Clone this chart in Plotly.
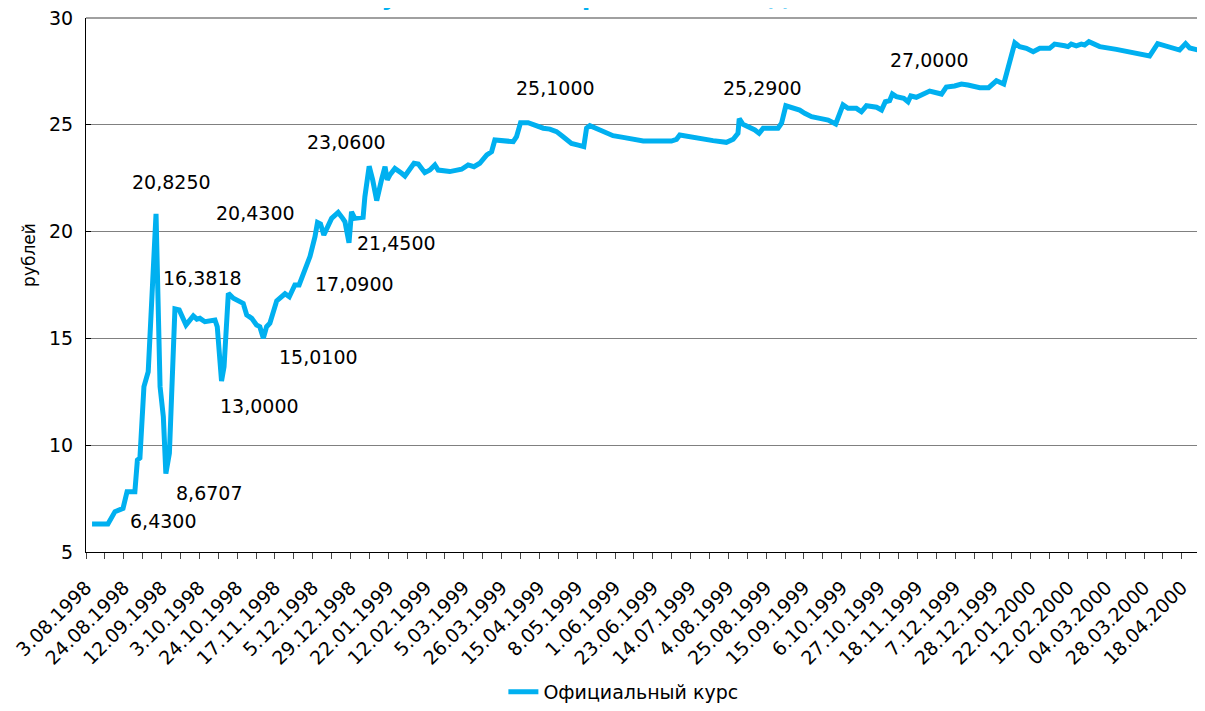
import plotly.graph_objects as go

# official rate, rub per USD; x = trading day counted from 3.08.1998
day_index = [2.4, 8.7, 11.5, 14.7, 16.3, 19.4, 20.4, 21.4, 23.0, 24.7,
             27.8, 29.4, 30.7, 31.7, 33.1, 35.3, 37.0, 39.7, 42.6, 44.0,
             45.2, 47.2, 51.2, 52.1, 53.8, 54.8, 56.5, 58.5, 62.4, 63.8,
             65.8, 67.7, 69.0, 70.4, 71.7, 73.0, 75.7, 77.7, 79.0, 80.7,
             82.9, 84.6, 86.0, 88.9, 90.9, 91.9, 93.1, 94.4, 97.5, 100.1,
             101.9, 102.8, 104.4, 105.4, 106.7, 110.0, 110.7, 112.4, 113.8, 115.4,
             117.3, 118.7, 119.6, 120.6, 122.6, 123.9, 125.3, 126.6, 127.9, 130.2,
             131.9, 134.5, 136.5, 138.5, 139.8, 144.4, 149.1, 151.7, 154.0, 156.3,
             159.1, 161.0, 162.3, 169.6, 170.9, 172.5, 175.5, 177.5, 181.5, 184.1,
             186.8, 189.4, 192.7, 195.4, 197.6, 198.7, 200.0, 204.0, 209.2, 213.2,
             221.2, 232.4, 234.4, 235.7, 242.3, 248.9, 254.2, 256.9, 258.8, 259.3,
             260.8, 264.2, 265.5, 267.2, 268.8, 274.7, 276.1, 277.8, 282.0, 283.3,
             285.3, 288.0, 291.3, 294.6, 297.6, 299.2, 300.5, 302.5, 305.8, 307.8,
             309.8, 313.8, 315.8, 317.3, 319.0, 320.1, 321.7, 324.6, 326.3, 327.4,
             329.6, 331.6, 334.9, 339.6, 341.5, 344.8, 347.5, 350.1, 354.8, 358.3,
             361.4, 364.3, 368.7, 370.6, 373.3, 376.0, 378.6, 382.5, 384.5, 388.5,
             389.8, 391.1, 393.1, 395.1, 396.4, 398.1, 402.4, 409.0, 415.6, 422.2,
             425.4, 434.1, 436.5, 438.1, 442.5]
rate = [6.31, 6.31, 6.89, 7.04, 7.82, 7.82, 9.31, 9.40, 12.74, 13.44,
        20.83, 12.74, 11.33, 8.67, 9.62, 16.38, 16.33, 15.63, 16.05, 15.90,
        15.94, 15.78, 15.86, 15.55, 13.00, 13.67, 17.11, 16.88, 16.64, 16.10,
        15.94, 15.63, 15.55, 15.01, 15.55, 15.71, 16.76, 16.95, 17.09, 16.95,
        17.50, 17.50, 17.89, 18.83, 19.76, 20.43, 20.36, 19.84, 20.62, 20.90,
        20.62, 20.46, 19.48, 20.93, 20.62, 20.67, 21.63, 23.06, 22.42, 21.45,
        22.42, 23.04, 22.42, 22.65, 22.96, 22.81, 22.73, 22.60, 22.85, 23.20,
        23.16, 22.76, 22.88, 23.12, 22.88, 22.81, 22.92, 23.12, 23.04, 23.20,
        23.59, 23.74, 24.29, 24.21, 24.44, 25.10, 25.10, 25.02, 24.84, 24.80,
        24.68, 24.44, 24.13, 24.05, 23.98, 24.84, 24.96, 24.76, 24.49, 24.41,
        24.24, 24.24, 24.32, 24.52, 24.37, 24.26, 24.18, 24.32, 24.60, 25.29,
        25.02, 24.86, 24.76, 24.60, 24.84, 24.84, 25.07, 25.89, 25.77, 25.69,
        25.54, 25.38, 25.30, 25.22, 25.04, 25.54, 25.93, 25.77, 25.77, 25.61,
        25.89, 25.82, 25.69, 26.08, 26.13, 26.44, 26.32, 26.24, 26.08, 26.35,
        26.29, 26.40, 26.58, 26.44, 26.77, 26.82, 26.91, 26.86, 26.74, 26.74,
        27.06, 26.91, 28.84, 28.66, 28.58, 28.42, 28.58, 28.58, 28.78, 28.70,
        28.66, 28.78, 28.70, 28.78, 28.74, 28.89, 28.66, 28.53, 28.38, 28.22,
        28.80, 28.50, 28.80, 28.60, 28.47]

tick_labels = ["3.08.1998", "24.08.1998", "12.09.1998", "3.10.1998", "24.10.1998",
               "17.11.1998", "5.12.1998", "29.12.1998", "22.01.1999", "12.02.1999",
               "5.03.1999", "26.03.1999", "15.04.1999", "8.05.1999", "1.06.1999",
               "23.06.1999", "14.07.1999", "4.08.1999", "25.08.1999", "15.09.1999",
               "6.10.1999", "27.10.1999", "18.11.1999", "7.12.1999", "28.12.1999",
               "22.01.2000", "12.02.2000", "04.03.2000", "28.03.2000", "18.04.2000"]
label_step = 15  # trading days between labelled dates
y_ticks = [5, 10, 15, 20, 25, 30]

# value captions and where they sit (x = trading day, y = rubles)
note_text = ["20,8250", "20,4300", "16,3818", "17,0900", "21,4500", "23,0600", "15,0100",
             "13,0000", "8,6707", "6,4300", "25,1000", "25,2900", "27,0000"]
note_x = [34.1, 67.1, 46.4, 106.7, 123.4, 103.6, 92.1, 69.0, 48.8, 30.6, 186.5, 268.7, 334.9]
note_y = [22.32, 20.87, 17.83, 17.55, 19.47, 24.19, 14.13, 11.84, 7.76, 6.45, 26.72, 26.72, 28.03]

FONT = "DejaVu Sans"
CYAN = "#00B0F0"

fig = go.Figure()
fig.add_trace(go.Scatter(
    x=day_index, y=rate,
    mode="lines",
    line=dict(color=CYAN, width=5),
    name="Официальный курс",
    showlegend=True
))

# tick every half label step, text on every other one
tickvals = [i * label_step / 2 for i in range(2 * len(tick_labels))]
ticktext = [tick_labels[i // 2] if i % 2 == 0 else "" for i in range(len(tickvals))]

for t, x, y in zip(note_text, note_x, note_y):
    fig.add_annotation(x=x, y=y, text=t, showarrow=False,
                       font=dict(family=FONT, size=19, color="black"))

# top gridline sits on the plot edge and gets clipped, draw it in paper coords
fig.add_shape(type="line", xref="paper", yref="paper", x0=0, x1=1, y0=1, y1=1,
              line=dict(color="#808080", width=1.5), layer="below")

# axis caption sits above the middle of the axis
fig.add_annotation(xref="paper", yref="paper", x=-0.062, y=0.556, text="рублей",
                   textangle=-90, showarrow=False,
                   font=dict(family=FONT, size=17, color="black"))

# title sits above the picture, only its descenders show
fig.add_annotation(xref="paper", yref="paper", x=0.433, y=1.0094, yanchor="bottom",
                   text="<b>Август 1998 — апрель 2000 года</b>", showarrow=False,
                   font=dict(family=FONT, size=25, color=CYAN))

# the page puts the figure 8px in from the top left corner
fig.update_layout(
    width=1197, height=703,
    margin=dict(l=78, r=3, t=10, b=159, autoexpand=False),
    plot_bgcolor="white",
    paper_bgcolor="white",
    font=dict(family=FONT, size=19, color="black"),
    xaxis=dict(
        range=[0, 443], automargin=False,
        tickmode="array", tickvals=tickvals, ticktext=ticktext,
        tickangle=-45,
        ticks="outside", ticklen=6, tickcolor="#444",
        ticklabelstandoff=10, ticklabeloverflow="allow",
        showline=True, linecolor="black", linewidth=1,
        showgrid=False, zeroline=False,
        tickfont=dict(family=FONT, size=19, color="black")
    ),
    yaxis=dict(
        range=[5, 30], automargin=False,
        tickmode="array", tickvals=y_ticks,
        ticks="inside", ticklen=5, tickcolor="black",
        showline=True, linecolor="black", linewidth=1,
        showgrid=True, gridcolor="#808080", gridwidth=1,
        zeroline=False,
        ticklabelstandoff=8, ticklabeloverflow="allow",
        tickfont=dict(family=FONT, size=19, color="black")
    ),
    legend=dict(orientation="h", x=0.374, xanchor="left", y=-0.262, yanchor="middle",
                font=dict(family=FONT, size=19, color="black"))
)

fig.write_html("out.html")
